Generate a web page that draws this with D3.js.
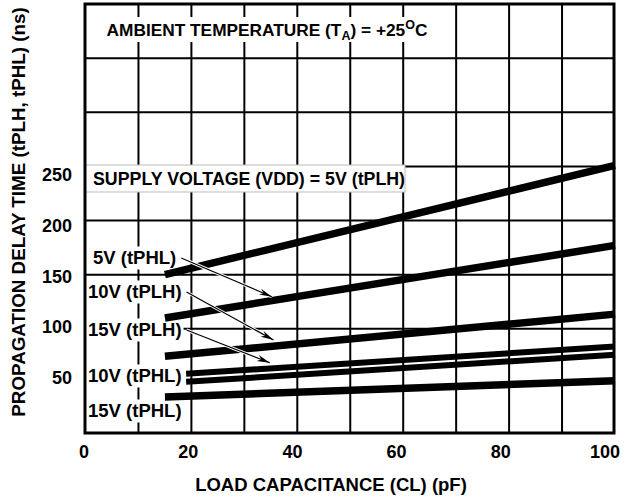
<!DOCTYPE html>
<html>
<head>
<meta charset="utf-8">
<script src="https://cdn.jsdelivr.net/npm/d3@7"></script>
<style>
  html, body { margin: 0; padding: 0; background: #fff; }
  svg { display: block; }
  text { font-family: "Liberation Sans", Arial, Helvetica, sans-serif; font-weight: bold; fill: #000; }
</style>
</head>
<body>
<script>
// ---- data ----
const xTickValues = [0, 20, 40, 60, 80, 100];          // pF
const yTickValues = [50, 100, 150, 200, 250];          // ns
const xGridValues = [10, 20, 30, 40, 50, 60, 70, 80, 90];
const yGridValues = [100, 150, 200, 250, 300, 350];

const seriesNames = ["5V (tPLH)", "5V (tPHL)", "10V (tPLH)", "15V (tPLH)", "10V (tPHL)", "15V (tPHL)"];
const seriesLoad  = [[15, 100], [15, 100], [15, 100], [19, 100], [19, 100], [15, 100]];
const seriesDelay = [[150, 251], [110, 177], [74.5, 113.5], [58.5, 83.5], [51, 76], [37, 52]];

// arrow tips (data coords) for labelled series
const arrowLabels = ["5V (tPHL)", "10V (tPLH)", "15V (tPLH)"];
const arrowTipLoad  = [35.2, 35.5, 34.8];
const arrowTipDelay = [129.6, 89.6, 68.6];

const xTitle = "LOAD CAPACITANCE (CL) (pF)";
const yTitle = "PROPAGATION DELAY TIME (tPLH, tPHL) (ns)";

// ---- layout ----
const W = 631, H = 498;
const frame = { left: 85, right: 614, top: 4, bottom: 433 };

const x = d3.scaleLinear().domain([0, 100]).range([85.5, 615]);
const y = d3.scaleLinear().domain([0, 400]).range([437, 4]);
const xLabel = d3.scaleLinear().domain([0, 100]).range([84, 605]);
const yLabel = d3.scaleLinear().domain([50, 250]).range([378, 174.5]);

const svg = d3.select("body").append("svg").attr("width", W).attr("height", H);

svg.append("defs").append("marker")
  .attr("id", "ah").attr("viewBox", "-13 -4 14 8")
  .attr("refX", 0).attr("refY", 0)
  .attr("markerWidth", 14).attr("markerHeight", 8)
  .attr("markerUnits", "userSpaceOnUse")
  .attr("orient", "auto")
  .append("path").attr("d", "M0,0 L-13,-3.2 L-9,0 L-13,3.2 Z").attr("fill", "#000");

// grid
const g = svg.append("g");
g.selectAll(".vg").data(xGridValues).join("line")
  .attr("x1", d => x(d)).attr("x2", d => x(d))
  .attr("y1", frame.top).attr("y2", frame.bottom)
  .attr("stroke", "#000").attr("stroke-width", 2);
g.selectAll(".hg").data(yGridValues).join("line")
  .attr("x1", frame.left).attr("x2", frame.right)
  .attr("y1", d => y(d)).attr("y2", d => y(d))
  .attr("stroke", "#000").attr("stroke-width", 2);

// ambient box
svg.append("rect").attr("x", 100).attr("y", 17).attr("width", 340).attr("height", 25).attr("fill", "#fff");
const amb = svg.append("text").attr("x", 267).attr("y", 36).attr("text-anchor", "middle").attr("font-size", 17.3);
amb.append("tspan").text("AMBIENT TEMPERATURE (T");
amb.append("tspan").attr("font-size", 12.5).attr("dy", 4).text("A");
amb.append("tspan").attr("dy", -4).text(") = +25");
amb.append("tspan").attr("font-size", 12.5).attr("dy", -7).text("O");
amb.append("tspan").attr("dy", 7).text("C");

// label backgrounds + labels (left column)
const leftLabels = [
  { t: "5V (tPHL)", x: 93, y: 258 },
  { t: "10V (tPLH)", x: 88, y: 292 },
  { t: "15V (tPLH)", x: 88, y: 330 },
  { t: "10V (tPHL)", x: 88, y: 376 },
  { t: "15V (tPHL)", x: 88, y: 411 }
];
const lblG = svg.append("g");
const labelEnds = {};
leftLabels.forEach(l => {
  const bg = lblG.append("rect").attr("fill", "#fff");
  const t = lblG.append("text").attr("x", l.x).attr("y", l.y).attr("dy", "0.35em")
    .attr("font-size", 18.5).text(l.t);
  const bb = t.node().getBBox();
  bg.attr("x", bb.x - 2).attr("y", bb.y - 1).attr("width", bb.width + 4).attr("height", bb.height + 2);
  labelEnds[l.t] = { x: bb.x + bb.width, y: l.y };
});

// series lines
const line = d3.line().x(d => x(d[0])).y(d => y(d[1]));
seriesNames.forEach((n, i) => {
  const pts = seriesLoad[i].map((c, j) => [c, seriesDelay[i][j]]);
  svg.append("path").attr("d", line(pts)).attr("fill", "none")
    .attr("stroke", "#000").attr("stroke-width", (i === 3 || i === 4) ? 6 : 7.5)
    .attr("stroke-linecap", "butt");
});

// arrows
arrowLabels.forEach((lab, i) => {
  const s = labelEnds[lab];
  const x1 = s.x + 5, y1 = s.y, x2 = x(arrowTipLoad[i]), y2 = y(arrowTipDelay[i]);
  svg.append("line").attr("x1", x1).attr("y1", y1).attr("x2", x2).attr("y2", y2)
    .attr("stroke", "#fff").attr("stroke-width", 3);
  svg.append("line").attr("x1", x1).attr("y1", y1).attr("x2", x2).attr("y2", y2)
    .attr("stroke", "#000").attr("stroke-width", 1.2).attr("marker-end", "url(#ah)");
});

// supply voltage box
svg.append("rect").attr("x", 85).attr("y", 165).attr("width", 320).attr("height", 27)
  .attr("fill", "#fff").attr("stroke", "#bbb").attr("stroke-width", 1);
svg.append("text").attr("x", 93).attr("y", 178.5).attr("dy", "0.35em").attr("font-size", 17.8)
  .text("SUPPLY VOLTAGE (VDD) = 5V (tPLH)");

// frame
svg.append("rect").attr("x", frame.left).attr("y", frame.top)
  .attr("width", frame.right - frame.left).attr("height", frame.bottom - frame.top)
  .attr("fill", "none").attr("stroke", "#000").attr("stroke-width", 3);

// tick labels
svg.append("g").selectAll("text").data(xTickValues).join("text")
  .attr("x", d => xLabel(d)).attr("y", 451.5).attr("dy", "0.35em")
  .attr("text-anchor", "middle").attr("font-size", 18).text(d => d);
svg.append("g").selectAll("text").data(yTickValues).join("text")
  .attr("x", 72).attr("y", d => yLabel(d)).attr("dy", "0.35em")
  .attr("text-anchor", "end").attr("font-size", 18).text(d => d);

// axis titles
svg.append("text").attr("x", 331).attr("y", 485).attr("dy", "0.35em")
  .attr("text-anchor", "middle").attr("font-size", 18.5).text(xTitle);
svg.append("text").attr("transform", "translate(18,212) rotate(-90)").attr("dy", "0.35em")
  .attr("text-anchor", "middle").attr("font-size", 18.8).text(yTitle);
</script>
</body>
</html>
